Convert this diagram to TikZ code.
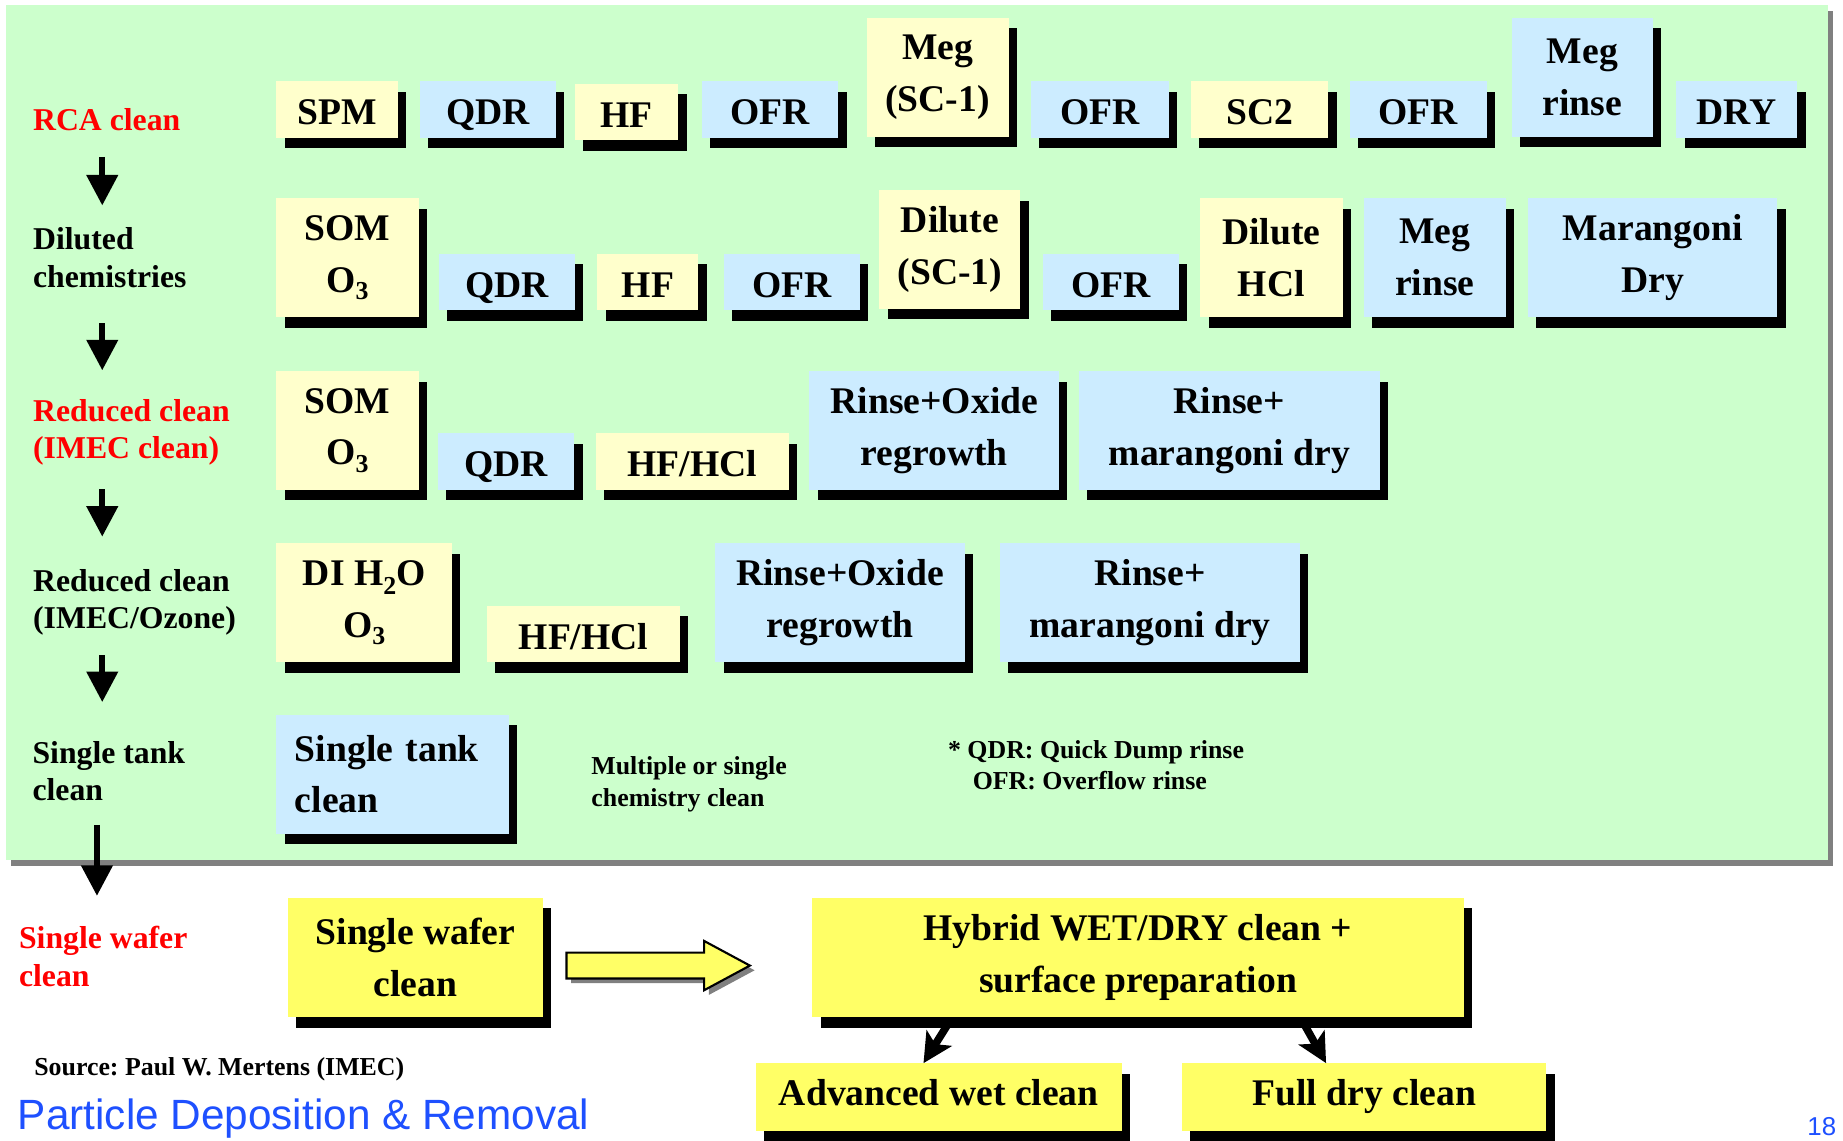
\documentclass[tikz,border=0pt]{standalone}
\usepackage{fontspec}
\setmainfont{Liberation Serif}
\newfontfamily\arialfont{Liberation Sans}
\usepackage{tikz}
\usetikzlibrary{positioning,arrows.meta,shadows}
\frenchspacing

\definecolor{panelgreen}{HTML}{CCFFCC}
\definecolor{paleyellow}{HTML}{FFFFCC}
\definecolor{paleblue}{HTML}{CCECFF}
\definecolor{waferyellow}{HTML}{FFFF66}
\definecolor{shadowgray}{HTML}{808080}
\definecolor{titleblue}{RGB}{30,80,255}
\definecolor{stepred}{HTML}{FF0000}

\newcommand{\chemsub}[2]{\raisebox{-#2em}{\fontsize{22}{22}\selectfont #1}}

\begin{document}
\begin{tikzpicture}[
    x=1pt, y=-1pt,
    cleanbox/.style={
      inner sep=0pt,
      anchor=north west,
      align=center,
      font=\bfseries\fontsize{32}{44}\selectfont,
      drop shadow={shadow xshift=7pt, shadow yshift=-9pt, fill=black, opacity=1}
    },
    yellowbox/.style={cleanbox, fill=paleyellow},
    bluebox/.style={cleanbox, fill=paleblue},
    waferbox/.style={cleanbox, fill=waferyellow},
    boxsize/.style 2 args={minimum width=#1pt, minimum height=#2pt},
    oneline/.style={text height=26pt, text depth=0pt},
    steplabel/.style={
      anchor=west,
      inner sep=0pt,
      align=left,
      font=\bfseries\fontsize{27}{32}\selectfont
    },
    note/.style={
      anchor=west,
      inner sep=0pt,
      align=left,
      font=\bfseries\fontsize{22}{27}\selectfont
    },
    flowarrow/.style={-{Triangle[width=26pt,length=26pt]}, line width=5pt},
    splitarrow/.style={-{Stealth[width=25pt,length=25pt,inset=6pt]}, line width=6.5pt},
    blockarrow/.style={
      fill=waferyellow,
      draw=black,
      line width=1.8pt,
      drop shadow={shadow xshift=4pt, shadow yshift=-4pt, fill=shadowgray, opacity=1}
    }
    ]
    \fill[white] (0,0) rectangle (1568,970);
    \useasboundingbox (0,0) rectangle (1568,970);
    \path[fill=panelgreen, drop shadow={shadow xshift=4.5pt, shadow yshift=-5pt, fill=shadowgray, opacity=1}] (5,4) rectangle (1555,731.5);

    \node[steplabel, text=stepred, anchor=base west] (s1) at (28,111) {RCA clean};
    \node[steplabel] (s2) at (28,219) {Diluted\\chemistries};
    \node[steplabel, text=stepred] (s3) at (28,368) {Reduced clean\\(IMEC clean)};
    \node[steplabel] (s4) at (28,512.5) {Reduced clean\\(IMEC/Ozone)};
    \node[steplabel] (s5) at (27.5,656) {Single tank\\clean};
    \node[steplabel, text=stepred] (s6) at (16,813.5) {Single wafer\\clean};

    \node[yellowbox, boxsize={103}{48}, oneline] (r1a) at (235,69) {SPM};
    \node[bluebox, boxsize={116}{48}, oneline] (r1b) at (357,69) {QDR};
    \node[yellowbox, boxsize={88}{48}, oneline] (r1c) at (489,71) {HF};
    \node[bluebox, boxsize={116}{48}, oneline] (r1d) at (597,69) {OFR};
    \node[yellowbox, boxsize={121}{101}] (r1e) at (737,15) {Meg\\(SC-1)};
    \node[bluebox, boxsize={117}{48}, oneline] (r1f) at (877,69) {OFR};
    \node[yellowbox, boxsize={117}{48}, oneline] (r1g) at (1013,69) {SC2};
    \node[bluebox, boxsize={117}{48}, oneline] (r1h) at (1148,69) {OFR};
    \node[bluebox, boxsize={120}{101}] (r1i) at (1286,15) {Meg\\rinse};
    \node[bluebox, boxsize={103}{48}, oneline] (r1j) at (1426,69) {DRY};

    \node[yellowbox, boxsize={121}{101}] (r2a) at (235,168.5) {SOM\\O\chemsub{3}{0.2}};
    \node[bluebox, boxsize={116}{48}, oneline] (r2b) at (373,215.5) {QDR};
    \node[yellowbox, boxsize={86}{48}, oneline] (r2c) at (508,215.5) {HF};
    \node[bluebox, boxsize={116}{48}, oneline] (r2d) at (615.5,215.5) {OFR};
    \node[yellowbox, boxsize={120}{101}] (r2e) at (748,161.5) {Dilute\\(SC-1)};
    \node[bluebox, boxsize={116}{48}, oneline] (r2f) at (887,215.5) {OFR};
    \node[yellowbox, boxsize={121}{101}] (r2g) at (1021,168.5) {Dilute\\HCl};
    \node[bluebox, boxsize={121}{101}] (r2h) at (1160,168.5) {Meg\\rinse};
    \node[bluebox, boxsize={212}{101}] (r2i) at (1300,168.5) {Marangoni\\Dry};

    \node[yellowbox, boxsize={121}{101}] (r3a) at (235,315.5) {SOM\\O\chemsub{3}{0.2}};
    \node[bluebox, boxsize={116}{48}, oneline] (r3b) at (372.5,368.5) {QDR};
    \node[yellowbox, boxsize={164.5}{48}, oneline] (r3c) at (506.5,368.5) {HF/HCl};
    \node[bluebox, boxsize={212.5}{101}] (r3d) at (688.5,315.5) {Rinse+Oxide\\regrowth};
    \node[bluebox, boxsize={255.5}{101}] (r3e) at (918,315.5) {Rinse+\\marangoni dry};

    \node[yellowbox, boxsize={149.5}{101}] (r4a) at (235,462) {DI H\chemsub{2}{0.25}O\\O\chemsub{3}{0.2}};
    \node[yellowbox, boxsize={164.5}{48}, oneline] (r4b) at (414,515) {HF/HCl};
    \node[bluebox, boxsize={212}{101}] (r4c) at (608.5,462) {Rinse+Oxide\\regrowth};
    \node[bluebox, boxsize={255.5}{101}] (r4d) at (850.5,462) {Rinse+\\marangoni dry};

    \node[bluebox, boxsize={197.5}{101}, text width=166pt, align=left] (r5a) at (235,608) {Single tank\\clean};
    \node[note] (multi) at (503,667) {Multiple or single\\chemistry clean};
    \node[note, font=\bfseries\fontsize{22}{26.3}\selectfont] (abbr) at (806.4,651) {* QDR: Quick Dump rinse\\\hspace*{21pt}OFR: Overflow rinse};

    \node[waferbox, boxsize={216.5}{101.5}] (swc) at (245,763.5) {Single wafer\\clean};
    \node[waferbox, boxsize={554}{101.5}] (hybrid) at (691,763.5) {Hybrid WET/DRY clean +\\surface preparation};
    \node[waferbox, boxsize={311}{57.5}, text height=22pt, text depth=7pt] (adv) at (643,904.5) {Advanced wet clean};
    \node[waferbox, boxsize={310}{57.5}, text height=22pt, text depth=7pt] (full) at (1005.5,904.5) {Full dry clean};

    \node[anchor=base west, inner sep=0pt, font=\bfseries\fontsize{22}{26}\selectfont] (src) at (29,915) {Source: Paul W. Mertens (IMEC)};
    \node[anchor=base west, inner sep=0pt, font=\arialfont\fontsize{36}{40}\selectfont, text=titleblue] (title) at (15,961) {Particle Deposition \& Removal};
    \node[anchor=base west, inner sep=0pt, font=\arialfont\fontsize{22}{24}\selectfont, text=titleblue] (page) at (1537.5,966) {18};

    \path[flowarrow] ([xshift=59pt]s1.south west) edge[shorten <=22pt, shorten >=18.5pt] ([xshift=59pt]s2.north west);
    \path[flowarrow] ([xshift=59pt]s2.south west) edge[shorten <=30.5pt, shorten >=24.5pt] ([xshift=59pt]s3.north west);
    \path[flowarrow] ([xshift=59pt]s3.south west) edge[shorten <=20pt, shorten >=27.5pt] ([xshift=59pt]s4.north west);
    \path[flowarrow] ([xshift=59pt]s4.south west) edge[shorten <=16.5pt, shorten >=33pt] ([xshift=59.5pt]s5.north west);
    \path[flowarrow] ([xshift=55pt]s5.south west) edge[shorten <=20pt, shorten >=25.5pt] ([xshift=66.5pt]s6.north west);

    \filldraw[blockarrow] (482,810.5) -- (599,810.5) -- (599,800.5) -- (638,821.5)
      -- (599,842.5) -- (599,832.5) -- (482,832.5) -- cycle;

    \path[splitarrow] ([xshift=-158pt]hybrid.south) edge[shorten <=5pt] ([xshift=-13pt]adv.north);
    \path[splitarrow] ([xshift=138pt]hybrid.south) edge[shorten <=5pt] ([xshift=-32.5pt]full.north);

    \end{tikzpicture}
\end{document}
